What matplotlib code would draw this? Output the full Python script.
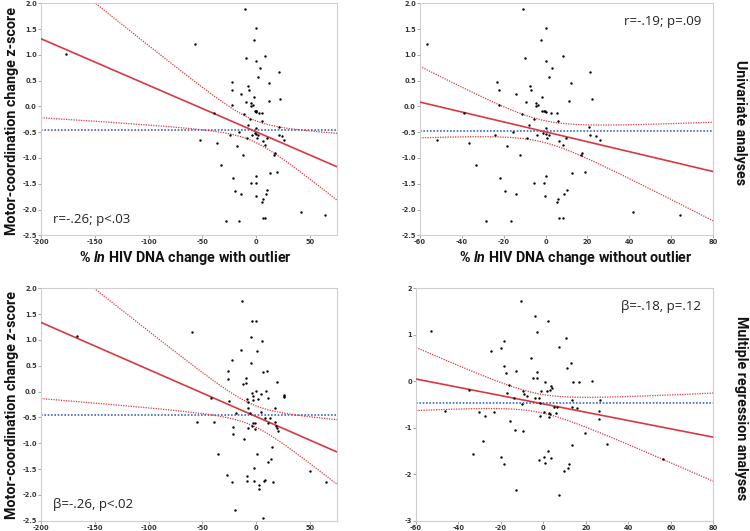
import numpy as np
import matplotlib
matplotlib.use("Agg")
import matplotlib.pyplot as plt

plt.rcParams['mathtext.fontset'] = 'custom'
plt.rcParams['mathtext.it'] = 'Roboto:italic:bold'

# univariate data (without the outlier); the "with outlier" panel adds one point
uni_x = [-56.7, -52.0, -39.0, -36.6, -33.2, -28.4, -24.1, -23.0, -22.4, -22.4, -21.7, -19.5,
         -18.2, -16.5, -15.7, -14.1, -14.1, -12.2, -11.2, -10.9, -9.8, -9.3, -8.7, -8.0,
         -7.5, -6.9, -5.5, -5.3, -4.5, -4.5, -4.2, -3.4, -2.1, -1.8, -1.5, -1.0, -0.7,
         -0.7, -0.5, -0.2, 0.0, 0.1, 0.0, 0.0, 0.1, 0.6, 0.1, 1.4, 1.7, 2.5, 3.1, 5.5,
         5.7, 5.4, 6.2, 5.9, 6.5, 8.1, 8.4, 8.4, 8.9, 9.7, 10.0, 11.4, 12.2, 12.7, 18.9,
         17.3, 16.9, 20.7, 21.0, 21.0, 22.1, 24.0, 26.1, 41.7, 64.1]
uni_y = [1.22, -0.65, -0.13, -0.70, -1.13, -2.22, -0.55, 0.47, 0.32, 0.02, -1.38, -1.64,
         -0.76, -2.23, -0.50, 0.25, -1.69, -0.95, -0.15, 1.88, 0.94, 0.09, -0.62, -0.37,
         0.39, 0.32, -0.24, -1.49, 0.07, 0.00, -0.55, 0.02, 1.28, 0.19, -0.08, -0.52, -0.08,
         -1.49, -1.74, -0.08, 1.53, 0.88, -0.42, -0.53, -1.35, -0.61, -0.10, -0.56, 0.58,
         -0.12, 0.74, -0.12, -0.28, -1.85, -0.67, -1.79, -2.16, 0.98, -0.75, -2.17, -1.70,
         -0.61, -1.62, 0.11, 0.46, -1.30, -1.27, -0.90, -0.94, -0.40, 0.67, -0.55, 0.14,
         -0.57, -0.66, -2.05, -2.11]
outlier_x = -176.4
outlier_y = 1.01

# multiple regression (partial) data, with outlier
mr_out_x = [-166.8, -60.1, -54.8, -42.1, -39.3, -35.9, -26.9, -26.3, -26.0, -25.4, -22.6,
            -22.3, -21.7, -21.3, -19.8, -18.9, -13.9, -13.6, -12.4, -11.4, -9.9, -9.2, -8.9,
            -8.9, -8.3, -8.0, -7.7, -7.4, -5.8, -5.2, -4.6, -3.7, -3.7, -3.7, -3.0, -3.0,
            -2.7, -2.4, -2.1, -1.5, -0.9, 0.0, 0.0, 0.4, 0.4, 1.6, 2.5, 2.5, 4.1, 4.4, 5.3,
            6.3, 6.6, 6.9, 7.8, 8.4, 9.1, 10.0, 10.6, 10.6, 14.0, 14.3, 15.2, 17.4, 17.4,
            18.4, 19.0, 19.6, 20.5, 25.5, 26.1, 26.1, 50.3, 64.6, 10.9, 12.4]
mr_out_y = [1.08, 1.15, -0.58, -0.13, -0.58, -1.21, -1.62, 0.40, 0.25, -0.19, -1.76, 0.61,
            -0.69, -0.82, -2.29, -0.42, 0.81, 1.75, 0.14, -0.92, 0.26, 0.17, -1.63, -1.73,
            -0.15, -0.21, -0.32, -0.70, -0.41, 0.55, 1.05, 1.36, -0.03, -0.66, -0.08, -0.16,
            -0.61, -1.47, -1.74, -0.72, -0.60, 1.37, 0.02, 0.79, -1.20, -0.15, -1.80, -1.89,
            -0.05, -0.40, 0.97, 0.37, -2.44, -1.74, -0.51, -1.71, 0.02, 0.40, -0.12, -1.36,
            -1.31, -1.07, -1.76, -0.32, -0.58, -0.66, 0.19, -0.70, -0.77, -0.09, -0.06, -0.11,
            -1.54, -1.75, -0.61, -0.52]

# multiple regression (partial) data, without outlier
mr_x = [-52.9, -46.2, -34.9, -33.2, -30.2, -28.6, -27.7, -24.8, -23.3, -20.0, -20.0, -18.6,
        -18.6, -18.5, -17.6, -17.3, -16.1, -15.9, -13.7, -13.5, -12.9, -12.8, -10.7, -10.1,
        -9.8, -9.8, -9.1, -7.9, -5.7, -4.8, -3.8, -3.8, -3.2, -3.2, -3.0, -2.2, -2.1, -1.6,
        -1.5, -1.3, 0.1, 0.4, 0.7, 0.6, 1.5, 2.2, 2.3, 2.5, 2.6, 3.1, 3.3, 3.4, 3.6, 3.9,
        5.0, 6.0, 6.4, 7.5, 7.5, 9.5, 10.5, 10.9, 11.4, 12.2, 13.0, 13.3, 13.3, 13.3, 14.1,
        16.0, 16.6, 19.4, 22.9, 26.3, 26.3, 26.8, 29.8, 56.1]
mr_y = [1.09, -0.65, -0.19, -1.56, -0.66, -1.29, -0.75, 0.65, -0.67, 0.71, -1.62, -1.79,
        0.86, 0.33, 0.17, -0.25, -0.08, -0.86, -0.35, -1.05, 0.22, -2.35, 1.73, -0.49,
        -0.22, -1.07, -0.28, -0.32, 0.49, 0.07, 1.41, -0.37, 0.07, 0.20, 1.05, -0.35,
        -1.69, -0.46, -0.74, -0.20, -1.63, -0.66, -0.02, -1.76, -0.21, 1.30, -1.50, -0.68,
        -0.76, -0.18, -0.70, -0.10, -1.65, -0.14, -0.55, -0.69, -0.55, 0.74, -2.45, -1.92,
        0.93, 0.28, -1.87, -1.78, 0.39, -0.41, -1.38, -0.55, -0.02, -0.58, -0.02, -1.11,
        0.00, -0.65, -0.82, -0.40, -1.35, -1.67]

labels = ['r=-.26; p<.03', 'r=-.19; p=.09', 'β=-.26, p<.02', 'β=-.18, p=.12']

red = '#d8383f'
blue = '#3f67c8'
spine_col = '#cfcfcf'


def panel(ax, x, y, xlim, xticks, yticks, yfmt, label, label_pos):
    x = np.array(x)
    y = np.array(y)
    n = len(x)
    b, a = np.polyfit(x, y, 1)
    res = y - (a + b * x)
    s = np.sqrt(np.sum(res ** 2) / (n - 2))
    xm = x.mean()
    sxx = np.sum((x - xm) ** 2)
    xx = np.linspace(xlim[0], xlim[1], 300)
    yy = a + b * xx
    hw = 1.99 * s * np.sqrt(1.0 / n + (xx - xm) ** 2 / sxx)

    ax.axhline(y.mean(), color=blue, lw=1.2, ls=(0, (1, 1)), zorder=1)
    ax.plot(xx, yy + hw, color=red, lw=0.9, ls=(0, (1, 1)), zorder=2)
    ax.plot(xx, yy - hw, color=red, lw=0.9, ls=(0, (1, 1)), zorder=2)
    ax.plot(xx, yy, color=red, lw=1.2, zorder=3)
    ax.scatter(x, y, s=3, color='black', zorder=4, linewidths=0)

    ax.set_xlim(xlim)
    ax.set_ylim(yticks[0], yticks[-1])
    ax.set_xticks(xticks)
    ax.set_yticks(yticks)
    ax.set_xticklabels(['%d' % t for t in xticks])
    ax.set_yticklabels([yfmt % t for t in yticks])
    for sp in ax.spines.values():
        sp.set_color(spine_col)
        sp.set_linewidth(0.8)
    ax.tick_params(length=2, width=0.6, color='#999999', labelsize=4.8,
                   labelcolor='#333333', pad=1)
    for t in ax.get_xticklabels() + ax.get_yticklabels():
        t.set_fontweight('bold')

    if label_pos == 'bl':
        ax.text(0.04, 0.04, label, transform=ax.transAxes, fontsize=9.5,
                family=['Open Sans', 'DejaVu Sans'], color='#222222', ha='left', va='bottom')
    else:
        ax.text(0.96, 0.95, label, transform=ax.transAxes, fontsize=9.5,
                family=['Open Sans', 'DejaVu Sans'], color='#222222', ha='right', va='top')


fig = plt.figure(figsize=(7.5, 5.31), dpi=100)

ax1 = fig.add_axes([41 / 750, 1 - 235.3 / 531, 296 / 750, 232 / 531])
ax2 = fig.add_axes([420 / 750, 1 - 235.3 / 531, 293 / 750, 232 / 531])
ax3 = fig.add_axes([41 / 750, 1 - 520.7 / 531, 296 / 750, 232.4 / 531])
ax4 = fig.add_axes([416 / 750, 1 - 520.7 / 531, 297.3 / 750, 232.4 / 531])

left_xt = [-200, -150, -100, -50, 0, 50]
right_xt = [-60, -40, -20, 0, 20, 40, 60, 80]
z_ticks = [-2.5, -2.0, -1.5, -1.0, -0.5, 0.0, 0.5, 1.0, 1.5, 2.0]

panel(ax1, [outlier_x] + uni_x, [outlier_y] + uni_y, (-200, 75), left_xt, z_ticks, '%.1f',
      labels[0], 'bl')
panel(ax2, uni_x, uni_y, (-60, 80), right_xt, z_ticks, '%.1f', labels[1], 'tr')
panel(ax3, mr_out_x, mr_out_y, (-200, 75), left_xt, z_ticks, '%.1f', labels[2], 'bl')
panel(ax4, mr_x, mr_y, (-60, 80), right_xt, [-3, -2, -1, 0, 1, 2], '%d', labels[3], 'tr')

lab_font = dict(family='Roboto', fontweight='bold', fontsize=10.3, color='#111111')
fig.text(12 / 750, 1 - 121 / 531, 'Motor-coordination change z-score', rotation=90,
         ha='center', va='center', **lab_font)
fig.text(12 / 750, 1 - 405 / 531, 'Motor-coordination change z-score', rotation=90,
         ha='center', va='center', **lab_font)
fig.text(185 / 750, 1 - 258 / 531, '% $ln$ HIV DNA change with outlier',
         ha='center', va='center', **lab_font)
fig.text(576 / 750, 1 - 258 / 531, '% $ln$ HIV DNA change without outlier',
         ha='center', va='center', **lab_font)
fig.text(740 / 750, 1 - 122 / 531, 'Univariate analyses', rotation=270,
         ha='center', va='center', **lab_font)
fig.text(741 / 750, 1 - 408 / 531, 'Multiple regression analyses', rotation=270,
         ha='center', va='center', **lab_font)

fig.savefig('out.png', dpi=100)
